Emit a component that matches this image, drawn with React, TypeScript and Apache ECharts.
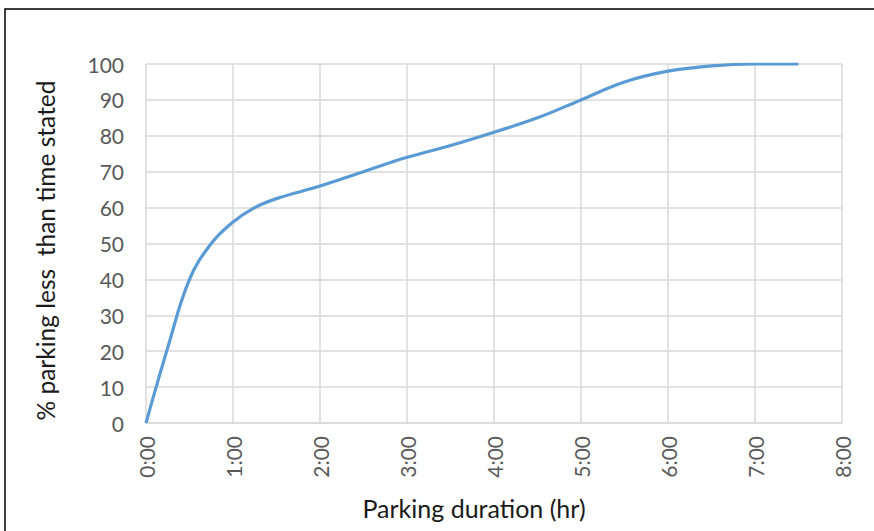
import React, { useEffect, useRef } from "react";
import * as echarts from "echarts";

const hours = [0, 0.25, 0.5, 0.75, 1, 1.25, 1.5, 2, 2.5, 3, 3.5, 4, 4.5, 5, 5.5, 6, 6.5, 7, 7.5];
const percent = [0, 21, 40, 50, 56, 60, 62.5, 66, 70, 74, 77.3, 81, 85, 90, 95, 98, 99.5, 100, 100];
const xTitle = "Parking duration (hr)";
const yTitle = "% parking less  than time stated";

export default function App() {
  const ref = useRef<HTMLDivElement>(null);
  useEffect(() => {
    const chart = echarts.init(ref.current!, null, { renderer: "svg" });
    const font = "Lato, 'Liberation Sans', sans-serif";
    chart.setOption({
      animation: false,
      backgroundColor: "#ffffff",
      graphic: [
        {
          type: "rect",
          shape: { x: 5, y: 9, width: 900, height: 600 },
          style: { fill: "none", stroke: "#000000", lineWidth: 1.5 },
          silent: true,
        },
      ],
      grid: { left: 146, right: 32, top: 64, bottom: 108 },
      xAxis: {
        type: "value",
        min: 0,
        max: 8,
        interval: 1,
        name: xTitle,
        nameLocation: "middle",
        nameGap: 72,
        nameTextStyle: { fontFamily: font, fontSize: 25, color: "#1a1a1a", padding: [0, 40, 0, 0] },
        axisLine: { show: true, lineStyle: { color: "#d9d9d9", width: 1.5 } },
        axisTick: { show: false },
        splitLine: { show: true, lineStyle: { color: "#d9d9d9", width: 1.5 } },
        axisLabel: {
          rotate: 90,
          margin: 13,
          fontFamily: font,
          fontSize: 21,
          color: "#595959",
          formatter: (v: number) => `${v}:00`,
        },
      },
      yAxis: {
        type: "value",
        min: 0,
        max: 100,
        interval: 10,
        name: yTitle,
        nameLocation: "middle",
        nameGap: 88,
        nameTextStyle: { fontFamily: font, fontSize: 24.5, color: "#1a1a1a", padding: [0, 14, 0, 0] },
        axisLine: { show: false },
        axisTick: { show: false },
        splitLine: { show: true, lineStyle: { color: "#d9d9d9", width: 1.5 } },
        axisLabel: { margin: 22, fontFamily: font, fontSize: 21, color: "#595959" },
      },
      series: [
        {
          type: "line",
          data: hours.map((h, i) => [h, percent[i]]),
          smooth: 0.4,
          showSymbol: false,
          lineStyle: { color: "#5B9BD5", width: 3.2 },
        },
      ],
    });
    return () => chart.dispose();
  }, []);
  return (
    <div
      ref={ref}
      style={{ position: "fixed", left: 0, top: 0, width: 874, height: 531 }}
    />
  );
}
